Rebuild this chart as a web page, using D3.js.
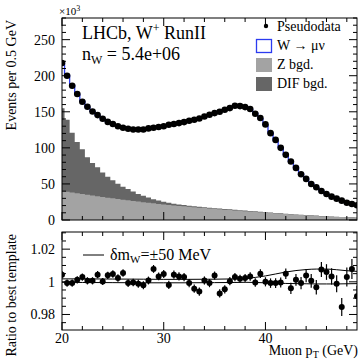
<!DOCTYPE html>
<html lang="en">
<head>
  <meta charset="utf-8">
  <title>Muon pT fit, W+ Run II</title>
  <script src="https://d3js.org/d3.v7.min.js"></script>
  <style>
    body { margin: 0; background: #fff; }
    text { font-family: "Liberation Serif", "DejaVu Serif", serif; fill: #000; }
  </style>
</head>
<body>
  <div id="my_dataviz"></div>
  <script>
    // bin centres (GeV), one value per 0.5 GeV bin
    var ptBins = d3.range(59).map(function (i) { return 20 + 0.5 * i; });

    // pseudodata, events per 0.5 GeV in units of 10^3
    var pseudoData = [217.6, 200, 186, 174.6, 164, 157, 150.4, 145.4, 140.3, 136,
      133, 130, 127.8, 126.4, 125.4, 125.4, 125.4, 127, 127.8, 129,
      130, 132, 133, 134.3, 135.7, 137.5, 138.9, 140.7, 143.5, 145.8,
      148.2, 150, 152.8, 155.1, 158.3, 157.9, 156.5, 153.8, 147.2, 141.3,
      132.5, 120.4, 111, 100, 90.3, 81, 72.2, 63.5, 57, 50,
      45.4, 40.3, 36.1, 32.4, 29.6, 26.8, 24, 22.2, 20.4];

    // best template (W + backgrounds), drawn as blue step outline
    var templateW = [217, 200.5, 186.5, 174.5, 164.5, 156.5, 150.5, 145, 140.5, 136.5,
      133, 130.2, 128, 126.5, 125.6, 125.2, 125.6, 126.6, 127.8, 129,
      130.3, 131.7, 133, 134.4, 135.8, 137.3, 139, 140.9, 143.1, 145.5,
      148, 150.4, 152.8, 155.2, 157.3, 158, 156.6, 153.4, 147.6, 140.6,
      131.8, 121, 110.6, 100.2, 90.5, 81.2, 72.6, 64.2, 57, 50.6,
      45.2, 40.4, 36.2, 32.6, 29.5, 26.8, 24.2, 22.1, 20.3];

    // Z background
    var zBgd = [40, 39, 38, 37, 36, 35, 34, 33, 32, 31,
      30, 29.1, 28.2, 27.3, 26.4, 25.5, 24.7, 23.9, 23.1, 22.3,
      21.6, 20.9, 20.2, 19.5, 18.9, 18.3, 17.7, 17.1, 16.5, 15.9,
      15.3, 14.8, 14.3, 13.8, 13.3, 12.8, 12.3, 11.8, 11.3, 10.8,
      10.3, 9.8, 9.3, 8.8, 8.3, 7.8, 7.3, 6.9, 6.5, 6.1,
      5.7, 5.3, 4.9, 4.6, 4.3, 4.0, 3.7, 3.4, 3.1];

    // decay-in-flight background (stacked on Z)
    var difBgd = [115, 100, 83, 71, 62, 52, 45, 40, 34, 29,
      25, 21, 18, 15.5, 13, 10.7, 8.8, 7.3, 5.8, 4.7,
      3.8, 3, 2.4, 2, 1.8, 1.6, 1.5, 1.4, 1.3, 1.2,
      1.1, 1.05, 1, 0.95, 0.9, 0.85, 0.8, 0.75, 0.7, 0.65,
      0.6, 0.58, 0.56, 0.54, 0.52, 0.5, 0.48, 0.46, 0.44, 0.42,
      0.4, 0.38, 0.36, 0.34, 0.32, 0.3, 0.28, 0.26, 0.24];

    // ratio pseudodata / best template, with errors
    var ratioData = [1.0044, 0.9992, 0.9992, 1.0012, 1.0029, 1.0006, 1.0006, 1.0044, 1.0002, 1.004,
      1.0048, 1.0023, 1.0054, 0.9992, 0.9996, 0.9988, 0.9979, 1.0008, 1.0079, 1.0033,
      1.0048, 0.9981, 1.0044, 1.0033, 1.0029, 0.9992, 0.9958, 0.994, 1.0008, 0.9992,
      1.0038, 0.9929, 0.9954, 1.0004, 1.0029, 1.0019, 1.0023, 1.0033, 0.9996, 1.005,
      1.0, 0.9992, 0.9992, 0.9996, 1.005, 0.996, 1.0012, 0.9992, 1.0038, 1.0006,
      0.9967, 1.0075, 1.006, 1.0033, 0.9988, 0.9846, 1.0029, 1.0079, 0.9912];
    var ratioErr = [0.0022, 0.0022, 0.0022, 0.0022, 0.0022, 0.0022, 0.0022, 0.0022, 0.0022, 0.0022,
      0.0023, 0.0023, 0.0023, 0.0023, 0.0023, 0.0024, 0.0024, 0.0024, 0.0024, 0.0024,
      0.0025, 0.0025, 0.0025, 0.0025, 0.0025, 0.0025, 0.0025, 0.0025, 0.0025, 0.0025,
      0.0025, 0.0025, 0.0025, 0.0025, 0.0025, 0.0025, 0.0025, 0.0026, 0.0026, 0.0027,
      0.0028, 0.0029, 0.003, 0.0031, 0.0032, 0.0034, 0.0036, 0.0038, 0.004, 0.0042,
      0.0044, 0.0046, 0.0048, 0.005, 0.0052, 0.0055, 0.0058, 0.0061, 0.0064];

    // template shifted by delta mW = +-50 MeV, ratio to best template
    var shiftX = [20, 22, 25, 28, 30, 32, 35, 37, 38, 39, 40, 41, 42, 43, 44, 45, 46, 47, 48, 49];
    var shiftUp = [1.0018, 1.0018, 1.0017, 1.0016, 1.0015, 1.0015, 1.0016, 1.0018, 1.0021, 1.0027,
      1.0036, 1.0048, 1.006, 1.0069, 1.0075, 1.0078, 1.0078, 1.0074, 1.0068, 1.0064];
    var shiftDown = [0.9997, 0.9996, 0.9995, 0.9994, 0.9994, 0.9994, 0.9995, 0.9996, 0.9997, 0.9996,
      0.9994, 0.9992, 0.999, 0.9989, 0.9988, 0.9987, 0.9987, 0.9987, 0.9988, 0.9989];

    var xTicks = [20, 30, 40];
    var yTopTicks = [0, 50, 100, 150, 200, 250];
    var yRatioTicks = [0.98, 1, 1.02];

    var W = 360, H = 361;
    var left = 62, right = 357;
    var top1 = 18, bot1 = 220, top2 = 232, bot2 = 330;

    var svg = d3.select("#my_dataviz")
      .append("svg")
      .attr("width", W)
      .attr("height", H);

    var x = d3.scaleLinear().domain([20, 49]).range([left, right]);
    var y = d3.scaleLinear().domain([0, 280]).range([bot1, top1]);
    var yr = d3.scaleLinear().domain([0.9705, 1.0305]).range([bot2, top2]);

    svg.append("clipPath").attr("id", "clipTop")
      .append("rect").attr("x", left).attr("y", top1).attr("width", right - left).attr("height", bot1 - top1);
    svg.append("clipPath").attr("id", "clipBot")
      .append("rect").attr("x", left).attr("y", top2).attr("width", right - left).attr("height", bot2 - top2);

    // ---------- top panel ----------
    var g1 = svg.append("g").attr("clip-path", "url(#clipTop)");

    var rows = ptBins.map(function (p, i) {
      return { pt: p, z: zBgd[i], tot: zBgd[i] + difBgd[i], w: templateW[i], d: pseudoData[i] };
    });

    g1.append("path")
      .datum(rows)
      .attr("fill", "#666666")
      .attr("d", d3.area().curve(d3.curveStep)
        .x(function (d) { return x(d.pt); })
        .y0(y(0))
        .y1(function (d) { return y(d.tot); }));

    g1.append("path")
      .datum(rows)
      .attr("fill", "#a3a3a3")
      .attr("d", d3.area().curve(d3.curveStep)
        .x(function (d) { return x(d.pt); })
        .y0(y(0))
        .y1(function (d) { return y(d.z); }));

    g1.append("path")
      .datum(rows)
      .attr("fill", "none")
      .attr("stroke", "#2b3bf0")
      .attr("stroke-width", 1.3)
      .attr("d", d3.line().curve(d3.curveStep)
        .x(function (d) { return x(d.pt); })
        .y(function (d) { return y(d.w); }));

    g1.selectAll("circle.data")
      .data(rows)
      .enter()
      .append("circle")
      .attr("class", "data")
      .attr("cx", function (d) { return x(d.pt); })
      .attr("cy", function (d) { return y(d.d); })
      .attr("r", 3.3)
      .attr("fill", "#000");

    // ---------- bottom panel ----------
    var g2 = svg.append("g").attr("clip-path", "url(#clipBot)");

    var shiftLine = d3.line().curve(d3.curveMonotoneX)
      .x(function (d) { return x(d[0]); })
      .y(function (d) { return yr(d[1]); });
    [shiftUp, shiftDown].forEach(function (s) {
      g2.append("path")
        .datum(shiftX.map(function (v, i) { return [v, s[i]]; }))
        .attr("fill", "none")
        .attr("stroke", "#000")
        .attr("stroke-width", 1)
        .attr("d", shiftLine);
    });

    var ratioRows = ptBins.map(function (p, i) {
      return { pt: p, r: ratioData[i], e: ratioErr[i] };
    });
    g2.selectAll("line.err")
      .data(ratioRows)
      .enter()
      .append("line")
      .attr("class", "err")
      .attr("x1", function (d) { return x(d.pt); })
      .attr("x2", function (d) { return x(d.pt); })
      .attr("y1", function (d) { return yr(d.r - d.e); })
      .attr("y2", function (d) { return yr(d.r + d.e); })
      .attr("stroke", "#000")
      .attr("stroke-width", 1.2);
    g2.selectAll("circle.ratio")
      .data(ratioRows)
      .enter()
      .append("circle")
      .attr("class", "ratio")
      .attr("cx", function (d) { return x(d.pt); })
      .attr("cy", function (d) { return yr(d.r); })
      .attr("r", 3)
      .attr("fill", "#000");

    // ---------- frames and ticks (ROOT style, inward) ----------
    function frame(y0, y1) {
      svg.append("rect")
        .attr("x", left).attr("y", y0)
        .attr("width", right - left).attr("height", y1 - y0)
        .attr("fill", "none").attr("stroke", "#000").attr("stroke-width", 1);
    }
    frame(top1, bot1);
    frame(top2, bot2);

    function xTicksAt(yEdge, dir) {
      var minor = d3.range(20, 49.01, 2);
      var g = svg.append("g");
      minor.forEach(function (v) {
        var len = (v % 10 === 0) ? 8 : 4;
        g.append("line")
          .attr("x1", x(v)).attr("x2", x(v))
          .attr("y1", yEdge).attr("y2", yEdge + dir * len)
          .attr("stroke", "#000");
      });
    }
    xTicksAt(bot1, -1);
    xTicksAt(top1, 1);
    xTicksAt(bot2, -1);
    xTicksAt(top2, 1);

    function yTicks(scale, minorStep, majorStep, lo, hi) {
      var n = Math.round((hi - lo) / minorStep);
      for (var k = 0; k <= n; k++) {
        var v = lo + k * minorStep;
        var isMajor = Math.abs(v / majorStep - Math.round(v / majorStep)) < 1e-6;
        var len = isMajor ? 8 : 4;
        svg.append("line").attr("x1", left).attr("x2", left + len)
          .attr("y1", scale(v)).attr("y2", scale(v)).attr("stroke", "#000");
        svg.append("line").attr("x1", right).attr("x2", right - len)
          .attr("y1", scale(v)).attr("y2", scale(v)).attr("stroke", "#000");
      }
    }
    yTicks(y, 10, 50, 0, 280);
    yTicks(yr, 0.005, 0.02, 0.975, 1.03);

    // tick labels
    svg.selectAll("text.ytop")
      .data(yTopTicks)
      .enter()
      .append("text")
      .attr("x", 55)
      .attr("y", function (d) { return y(d) + 5; })
      .attr("text-anchor", "end")
      .style("font-size", "14px")
      .text(function (d) { return d; });

    svg.selectAll("text.yrat")
      .data(yRatioTicks)
      .enter()
      .append("text")
      .attr("x", 55)
      .attr("y", function (d) { return yr(d) + 5; })
      .attr("text-anchor", "end")
      .style("font-size", "14px")
      .text(function (d) { return d; });

    svg.selectAll("text.xlab")
      .data(xTicks)
      .enter()
      .append("text")
      .attr("x", function (d) { return x(d); })
      .attr("y", 343)
      .attr("text-anchor", "middle")
      .style("font-size", "14px")
      .text(function (d) { return d; });

    // exponent
    var ex = svg.append("text").attr("x", 59).attr("y", 15).style("font-size", "11px");
    ex.append("tspan").text("\u00d710");
    ex.append("tspan").attr("dy", -4).style("font-size", "8px").text("3");

    // axis titles
    svg.append("text")
      .attr("transform", "translate(16," + (top1 + 2) + ") rotate(-90)")
      .attr("text-anchor", "end")
      .style("font-size", "14px")
      .text("Events per 0.5 GeV");

    svg.append("text")
      .attr("transform", "translate(16," + (top2 + 2) + ") rotate(-90)")
      .attr("text-anchor", "end")
      .style("font-size", "14px")
      .text("Ratio to best template");

    var xt = svg.append("text")
      .attr("x", right + 1)
      .attr("y", 355)
      .attr("text-anchor", "end")
      .style("font-size", "14px");
    xt.append("tspan").text("Muon p");
    xt.append("tspan").attr("dy", 3).style("font-size", "10px").text("T");
    xt.append("tspan").attr("dy", -3).text(" (GeV)");

    // labels in the plot
    var l1 = svg.append("text").attr("x", 82).attr("y", 39).style("font-size", "18px");
    l1.append("tspan").text("LHCb, W");
    l1.append("tspan").attr("dy", -7).style("font-size", "12px").text("+");
    l1.append("tspan").attr("dy", 7).text(" RunII");

    var l2 = svg.append("text").attr("x", 82).attr("y", 60).style("font-size", "18px");
    l2.append("tspan").text("n");
    l2.append("tspan").attr("dy", 4).style("font-size", "12px").text("W");
    l2.append("tspan").attr("dy", -4).text(" = 5.4e+06");

    // legend
    svg.append("circle").attr("cx", 266).attr("cy", 26).attr("r", 2.2).attr("fill", "#000");
    svg.append("text").attr("x", 277).attr("y", 31).style("font-size", "14px").text("Pseudodata");

    svg.append("rect").attr("x", 256.5).attr("y", 39.5).attr("width", 15).attr("height", 13)
      .attr("fill", "#fff").attr("stroke", "#2b3bf0").attr("stroke-width", 1.3);
    svg.append("text").attr("x", 277).attr("y", 50).style("font-size", "14px").text("W \u2192 \u03bc\u03bd");

    svg.append("rect").attr("x", 256).attr("y", 58).attr("width", 16).attr("height", 14).attr("fill", "#a3a3a3");
    svg.append("text").attr("x", 277).attr("y", 69).style("font-size", "14px").text("Z bgd.");

    svg.append("rect").attr("x", 256).attr("y", 77).attr("width", 16).attr("height", 14).attr("fill", "#666666");
    svg.append("text").attr("x", 277).attr("y", 88).style("font-size", "14px").text("DIF bgd.");

    // ratio legend
    svg.append("line").attr("x1", 83).attr("x2", 104).attr("y1", 255).attr("y2", 255)
      .attr("stroke", "#000").attr("stroke-width", 1);
    var rl = svg.append("text").attr("x", 110).attr("y", 260).style("font-size", "16px");
    rl.append("tspan").text("\u03b4m");
    rl.append("tspan").attr("dy", 3).style("font-size", "11px").text("W");
    rl.append("tspan").attr("dy", -3).text("=\u00b150 MeV");
  </script>
</body>
</html>
